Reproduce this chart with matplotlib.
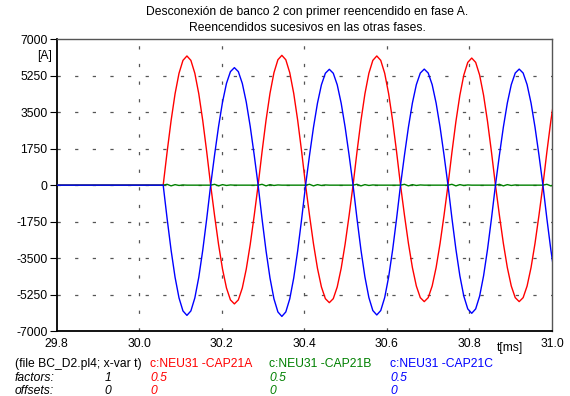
import numpy as np
import matplotlib
matplotlib.use("Agg")
import matplotlib.pyplot as plt

plt.rcParams['font.family'] = ['Liberation Sans', 'DejaVu Sans']
FS = 8.7

# ---- data -------------------------------------------------------------
# Sampling of the transient after the switching instant (time in ms)
t_start = 29.8
t_onset = 30.058
dt = 0.0095833

# Currents [A] at each sample from the switching instant onward
i_cap21a = [0, 1605, 3100, 4384, 5369, 5989, 6200, 5989, 5369, 4384, 3100, 1605,
            0, -1475, -2850, -4030, -4936, -5506, -5700, -5506, -4936, -4030, -2850, -1475,
            0, 1612, 3115, 4405, 5395, 6018, 6230, 6018, 5395, 4405, 3115, 1612,
            0, -1460, -2820, -3988, -4884, -5448, -5640, -5448, -4884, -3988, -2820, -1460,
            0, 1605, 3100, 4384, 5369, 5989, 6200, 5989, 5369, 4384, 3100, 1605,
            0, -1447, -2795, -3953, -4841, -5399, -5590, -5399, -4841, -3953, -2795, -1447,
            0, 1579, 3050, 4313, 5283, 5892, 6100, 5892, 5283, 4313, 3050, 1579,
            0, -1447, -2795, -3953, -4841, -5399, -5590, -5399, -4841, -3953, -2795, -1447,
            0, 1592, 3075, 4349]

i_cap21b = [0, 40, -35, 25, -15, 10, 0, 0, 0, 0, 0, 0,
            0, 40, -35, 25, -15, 10, 0, 0, 0, 0, 0, 0,
            0, 40, -35, 25, -15, 10, 0, 0, 0, 0, 0, 0,
            0, 40, -35, 25, -15, 10, 0, 0, 0, 0, 0, 0,
            0, 40, -35, 25, -15, 10, 0, 0, 0, 0, 0, 0,
            0, 40, -35, 25, -15, 10, 0, 0, 0, 0, 0, 0,
            0, 40, -35, 25, -15, 10, 0, 0, 0, 0, 0, 0,
            0, 40, -35, 25, -15, 10, 0, 0, 0, 0, 0, 0,
            0, 40, -35, 25]

i_cap21c = [0, -1618, -3125, -4419, -5413, -6037, -6250, -6037, -5413, -4419, -3125, -1618,
            0, 1460, 2820, 3988, 4884, 5448, 5640, 5448, 4884, 3988, 2820, 1460,
            0, -1630, -3150, -4455, -5456, -6085, -6300, -6085, -5456, -4455, -3150, -1630,
            0, 1439, 2780, 3931, 4815, 5370, 5560, 5370, 4815, 3931, 2780, 1439,
            0, -1612, -3115, -4405, -5395, -6018, -6230, -6018, -5395, -4405, -3115, -1612,
            0, 1442, 2785, 3939, 4824, 5380, 5570, 5380, 4824, 3939, 2785, 1442,
            0, -1592, -3075, -4349, -5326, -5940, -6150, -5940, -5326, -4349, -3075, -1592,
            0, 1442, 2785, 3939, 4824, 5380, 5570, 5380, 4824, 3939, 2785, 1442,
            0, -1605, -3100, -4384]

y_ticks = [-7000, -5250, -3500, -1750, 0, 1750, 3500, 5250, 7000]
x_ticks = [29.8, 30.0, 30.2, 30.4, 30.6, 30.8, 31.0]
x_labels = ['29.8', '30.0', '30.2', '30.4', '30.6', '30.8', '31.0']

title_lines = ['Desconexión de banco 2 con primer reencendido en fase A.',
               'Reencendidos sucesivos en las otras fases.']
series_names = ['c:NEU31 -CAP21A', 'c:NEU31 -CAP21B', 'c:NEU31 -CAP21C']
series_colors = ['#ff0000', '#008000', '#0000ff']
factors = ['0.5', '0.5', '0.5']
offsets = ['0', '0', '0']

# ---- figure -----------------------------------------------------------
W, H = 570, 396
fig = plt.figure(figsize=(W / 100, H / 100), dpi=100)
x0, x1, y0, y1 = 56.7, 552.0, 39.3, 331.0
ax = fig.add_axes([x0 / W, 1 - y1 / H, (x1 - x0) / W, (y1 - y0) / H])

t = np.concatenate([[t_start], t_onset + dt * np.arange(len(i_cap21a))])
for vals, col in zip([i_cap21a, i_cap21b, i_cap21c], series_colors):
    ax.plot(t, np.concatenate([[0], vals]), color=col, lw=1.0, zorder=3)

ax.set_xlim(29.8, 31.0)
ax.set_ylim(-7000, 7000)

# dashed grid
dash = (0, (2.6, 11.5))
for yv in y_ticks[1:-1]:
    ax.axhline(yv, color='#555555', lw=0.9, linestyle=dash, zorder=1)
for xv in x_ticks[1:-1]:
    ax.axvline(xv, color='#555555', lw=0.9, linestyle=dash, zorder=1)

ax.set_yticks(y_ticks)
ax.set_yticklabels([str(v) for v in y_ticks])
ax.set_xticks(x_ticks)
ax.set_xticklabels(x_labels)
ax.tick_params(axis='y', direction='out', length=5, width=0.8, pad=1.5, labelsize=FS)
ax.tick_params(axis='x', direction='in', length=0, pad=5, labelsize=FS)

for s in ['left', 'bottom']:
    ax.spines[s].set_color('black')
    ax.spines[s].set_linewidth(1.3)
for s in ['top', 'right']:
    ax.spines[s].set_color('#555555')
    ax.spines[s].set_linewidth(1.0)

def fx(px):
    return px / W

def fy(py):
    return 1 - py / H

fig.text(fx(307), fy(12.5), title_lines[0], ha='center', va='center', fontsize=FS)
fig.text(fx(307), fy(28), title_lines[1], ha='center', va='center', fontsize=FS)
fig.text(fx(52.3), fy(56), '[A]', ha='right', va='center', fontsize=FS)
fig.text(fx(510), fy(348), 't[ms]', ha='center', va='center', fontsize=FS)

# information block under the plot
rows = [364, 378, 391]
fig.text(fx(15), fy(rows[0]), '(file BC_D2.pl4; x-var t)', ha='left', va='center', fontsize=FS)
fig.text(fx(15), fy(rows[1]), 'factors:', ha='left', va='center', fontsize=FS, style='italic')
fig.text(fx(15), fy(rows[2]), 'offsets:', ha='left', va='center', fontsize=FS, style='italic')
fig.text(fx(108), fy(rows[1]), '1', ha='center', va='center', fontsize=FS, style='italic')
fig.text(fx(108), fy(rows[2]), '0', ha='center', va='center', fontsize=FS, style='italic')
for xp, name, col, fac, off in zip([150, 269, 390], series_names, series_colors, factors, offsets):
    fig.text(fx(xp), fy(rows[0]), name, ha='left', va='center', fontsize=FS, color=col)
    fig.text(fx(xp), fy(rows[1]), fac, ha='left', va='center', fontsize=FS, color=col, style='italic')
    fig.text(fx(xp), fy(rows[2]), off, ha='left', va='center', fontsize=FS, color=col, style='italic')

fig.savefig('out.png', dpi=100)
